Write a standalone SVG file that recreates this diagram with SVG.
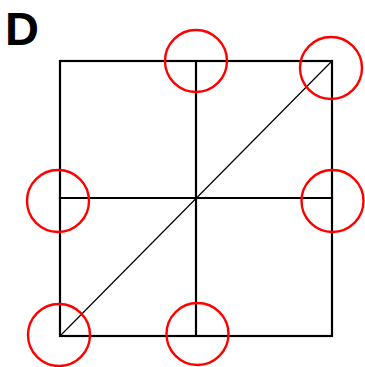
<svg xmlns="http://www.w3.org/2000/svg" width="365" height="367" viewBox="0 0 365 367">
<style>
.frame{fill:none;stroke:#000;stroke-width:2.2;stroke-linecap:square}
.diag{stroke:#000;stroke-width:1.2;fill:none}
.mark{fill:none;stroke:#ff0000;stroke-width:2.4}
.lbl{font-family:"Liberation Sans",Arial,sans-serif;font-weight:bold;font-size:47px;fill:#000}
</style>
<rect width="365" height="367" fill="#fff"/>
<text class="lbl" x="5" y="45">D</text>
<g id="connectors">
<rect class="frame" x="60" y="61" width="272" height="275"/>
<line class="frame" x1="196" y1="61" x2="196" y2="336"/>
<line class="frame" x1="60" y1="198" x2="332" y2="198"/>
<line class="diag" x1="60" y1="336" x2="332" y2="61"/>
</g>
<g id="c1"><circle class="mark" cx="196" cy="61" r="31"/></g>
<g id="c2"><circle class="mark" cx="331" cy="68" r="31"/></g>
<g id="c3"><circle class="mark" cx="58" cy="201" r="31"/></g>
<g id="c4"><circle class="mark" cx="332.5" cy="201" r="31"/></g>
<g id="c5"><circle class="mark" cx="59" cy="335" r="31"/></g>
<g id="c6"><circle class="mark" cx="197.5" cy="334" r="31"/></g>
</svg>
